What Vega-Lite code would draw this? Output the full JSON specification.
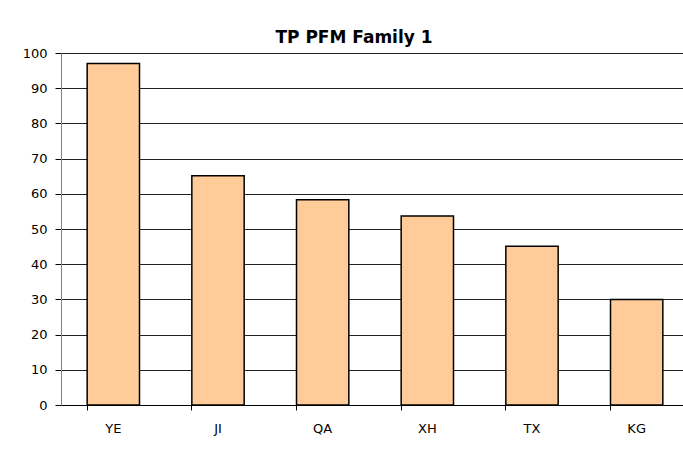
{
  "$schema": "https://vega.github.io/schema/vega-lite/v6.json",
  "autosize": {"type": "none"},
  "padding": {"left": 61, "top": 53, "right": 0, "bottom": 47},
  "width": 622,
  "height": 352,
  "background": "white",
  "title": {
    "text": "TP PFM Family 1",
    "font": "DejaVu Sans",
    "fontSize": 17,
    "fontWeight": "bold",
    "color": "black",
    "anchor": "middle",
    "baseline": "alphabetic",
    "offset": 9,
    "dx": -18,
    "dy": 22
  },
  "config": {
    "view": {"stroke": null},
    "axis": {"labelFont": "DejaVu Sans", "labelFontSize": 13, "labelColor": "black"}
  },
  "data": {
    "values": [
      {"code": "YE", "value": 97},
      {"code": "JI", "value": 65.1},
      {"code": "QA", "value": 58.3},
      {"code": "XH", "value": 53.7},
      {"code": "TX", "value": 45.1},
      {"code": "KG", "value": 30}
    ]
  },
  "mark": {"type": "bar", "fill": "#FFCC99", "stroke": "black", "strokeWidth": 1.5},
  "encoding": {
    "x": {
      "field": "code",
      "type": "nominal",
      "sort": null,
      "scale": {"range": [0, 628], "paddingInner": 0.5, "paddingOuter": 0.25},
      "axis": {
        "title": null,
        "labelAngle": 0,
        "bandPosition": 0,
        "ticks": true,
        "tickSize": 5,
        "tickColor": "black",
        "domainColor": "black",
        "labelPadding": 12,
        "grid": false
      }
    },
    "y": {
      "field": "value",
      "type": "quantitative",
      "scale": {"domain": [0, 100], "nice": false},
      "axis": {
        "title": null,
        "values": [0, 10, 20, 30, 40, 50, 60, 70, 80, 90, 100],
        "tickSize": 6,
        "tickColor": "black",
        "domainColor": "#808080",
        "labelPadding": 8,
        "grid": true,
        "gridColor": "#222222",
        "gridOpacity": 1,
        "gridWidth": 1
      }
    }
  }
}
